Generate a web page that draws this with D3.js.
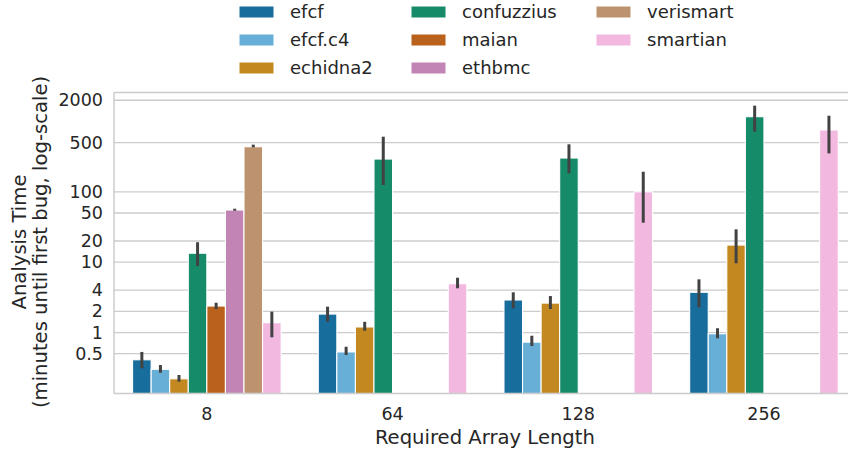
<!DOCTYPE html>
<html>
<head>
<meta charset="utf-8">
<script src="https://cdn.jsdelivr.net/npm/d3@7"></script>
<style>
  html, body { margin: 0; padding: 0; background: #fff; }
  svg { display: block; font-family: "DejaVu Sans", sans-serif; }
</style>
</head>
<body>
<svg id="chart" width="848" height="450"></svg>
<script>
// Array lengths on the x axis
const lengths = ["8", "64", "128", "256"];

// Fuzzers / analysis tools (hue order)
const tools = ["efcf", "efcf.c4", "echidna2", "confuzzius", "maian", "ethbmc", "verismart", "smartian"];

// Mean analysis time (minutes until first bug); null = no result
const efcf       = [0.41, 1.83, 2.90, 3.73];
const efcfC4     = [0.30, 0.53, 0.73, 0.96];
const echidna2   = [0.22, 1.20, 2.62, 17.5];
const confuzzius = [13.4, 292, 302, 1168];
const maian      = [2.38, null, null, null];
const ethbmc     = [55.1, null, null, null];
const verismart  = [437, null, null, null];
const smartian   = [1.38, 4.94, 100, 756];

// Confidence interval bounds
const efcfLo       = [0.31, 1.42, 2.21, 2.28];
const efcfHi       = [0.53, 2.33, 3.73, 5.7];
const efcfC4Lo     = [0.268, 0.479, 0.643, 0.827];
const efcfC4Hi     = [0.345, 0.628, 0.90, 1.15];
const echidna2Lo   = [0.20, 1.06, 2.16, 9.63];
const echidna2Hi   = [0.249, 1.42, 3.30, 29.3];
const confuzziusLo = [8.8, 125, 183, 715];
const confuzziusHi = [19.2, 607, 473, 1675];
const maianLo      = [2.16, null, null, null];
const maianHi      = [2.65, null, null, null];
const ethbmcLo     = [53.8, null, null, null];
const ethbmcHi     = [57.5, null, null, null];
const verismartLo  = [428, null, null, null];
const verismartHi  = [468, null, null, null];
const smartianLo   = [0.855, 4.25, 36.4, 352];
const smartianHi   = [1.98, 6.01, 193, 1207];

// Y tick values
const yTicks = [0.5, 1, 2, 4, 10, 20, 50, 100, 500, 2000];

// Colorblind palette, desaturated like seaborn bars
const basePalette = ["#0173b2", "#56b4e9", "#de8f05", "#029e73", "#d55e00", "#cc78bc", "#ca9161", "#fbafe4"];

const means = [efcf, efcfC4, echidna2, confuzzius, maian, ethbmc, verismart, smartian];
const lows  = [efcfLo, efcfC4Lo, echidna2Lo, confuzziusLo, maianLo, ethbmcLo, verismartLo, smartianLo];
const highs = [efcfHi, efcfC4Hi, echidna2Hi, confuzziusHi, maianHi, ethbmcHi, verismartHi, smartianHi];

const palette = basePalette.map(c => {
  const h = d3.hsl(c);
  h.s *= 0.75;
  return h.formatHex();
});

const rows = [];
tools.forEach((t, ti) => {
  lengths.forEach((len, li) => {
    const v = means[ti][li];
    if (v == null) return;
    rows.push({ tool: t, len, value: v, lo: lows[ti][li], hi: highs[ti][li], color: palette[ti] });
  });
});

const svg = d3.select("#chart");
const plotLeft = 114, plotTop = 92.5, plotBottom = 393.5;
const step = 185.7;
const plotRight = plotLeft + step * lengths.length;   // extends past the page edge

const x = d3.scaleBand().domain(lengths).range([plotLeft, plotRight]).paddingInner(0).paddingOuter(0);
const xHue = d3.scaleBand().domain(tools).range([0, x.bandwidth() * 0.8]);

const y = d3.scaleLog().domain([0.136, 2578]).range([plotBottom, plotTop]);

const textColor = "#262626";
const gridColor = "#cccccc";

// Horizontal grid lines
svg.append("g")
  .selectAll("line")
  .data(yTicks)
  .join("line")
  .attr("x1", plotLeft).attr("x2", plotRight)
  .attr("y1", d => y(d)).attr("y2", d => y(d))
  .attr("stroke", gridColor).attr("stroke-width", 1.3);

// Bars
const offset = x.bandwidth() * 0.1;
svg.append("g")
  .selectAll("rect")
  .data(rows)
  .join("rect")
  .attr("x", d => x(d.len) + offset + xHue(d.tool))
  .attr("width", xHue.bandwidth())
  .attr("y", d => y(d.value))
  .attr("height", d => plotBottom - y(d.value))
  .attr("fill", d => d.color)
  .attr("stroke", "#ffffff")
  .attr("stroke-width", 1.1);

// Error bars
svg.append("g")
  .selectAll("line")
  .data(rows)
  .join("line")
  .attr("x1", d => x(d.len) + offset + xHue(d.tool) + xHue.bandwidth() / 2)
  .attr("x2", d => x(d.len) + offset + xHue(d.tool) + xHue.bandwidth() / 2)
  .attr("y1", d => y(d.lo))
  .attr("y2", d => y(d.hi))
  .attr("stroke", "#424242")
  .attr("stroke-width", 3);

// Frame (left, top, bottom spines)
svg.append("line").attr("x1", plotLeft).attr("x2", plotLeft).attr("y1", plotTop).attr("y2", plotBottom)
  .attr("stroke", gridColor).attr("stroke-width", 1.5);
svg.append("line").attr("x1", plotLeft).attr("x2", plotRight).attr("y1", plotTop).attr("y2", plotTop)
  .attr("stroke", gridColor).attr("stroke-width", 1.5);
svg.append("line").attr("x1", plotLeft).attr("x2", plotRight).attr("y1", plotBottom).attr("y2", plotBottom)
  .attr("stroke", gridColor).attr("stroke-width", 1.5);

// Y axis tick labels
const yAxis = d3.axisLeft(y).tickValues(yTicks).tickSize(0).tickPadding(11)
  .tickFormat(d => String(d));
const gy = svg.append("g").attr("transform", `translate(${plotLeft},0)`).call(yAxis);
gy.select(".domain").remove();
gy.selectAll("text").attr("fill", textColor).attr("font-size", 17.5)
  .attr("font-family", "DejaVu Sans");

// X axis tick labels
const xAxis = d3.axisBottom(x).tickSize(0).tickPadding(14);
const gx = svg.append("g").attr("transform", `translate(0,${plotBottom})`).call(xAxis);
gx.select(".domain").remove();
gx.selectAll("text").attr("fill", textColor).attr("font-size", 17.5)
  .attr("font-family", "DejaVu Sans");

// Axis titles
svg.append("text")
  .attr("x", (plotLeft + plotRight) / 2 - 0.5).attr("y", 444)
  .attr("text-anchor", "middle").attr("fill", textColor).attr("font-size", 19.6)
  .text("Required Array Length");

const yTitle = svg.append("text")
  .attr("transform", "translate(0,242) rotate(-90)")
  .attr("text-anchor", "middle").attr("fill", textColor).attr("font-size", 19.6);
yTitle.append("tspan").attr("x", 0).attr("y", 25.5).text("Analysis Time");
yTitle.append("tspan").attr("x", 0).attr("y", 47).text("(minutes until first bug, log-scale)");

// Legend: three columns, filled column by column
const legendCols = [239, 411, 596];
const legendRows = [12, 40, 68];
const legend = svg.append("g");
tools.forEach((t, i) => {
  const col = Math.floor(i / 3), row = i % 3;
  const g = legend.append("g").attr("transform", `translate(${legendCols[col]},${legendRows[row]})`);
  g.append("rect").attr("x", 0).attr("y", -6).attr("width", 35).attr("height", 12)
    .attr("fill", palette[i]).attr("stroke", "#fff").attr("stroke-width", 1);
  g.append("text").attr("x", 51).attr("y", 0).attr("dy", "0.35em")
    .attr("fill", textColor).attr("font-size", 18).text(t);
});
</script>
</body>
</html>
